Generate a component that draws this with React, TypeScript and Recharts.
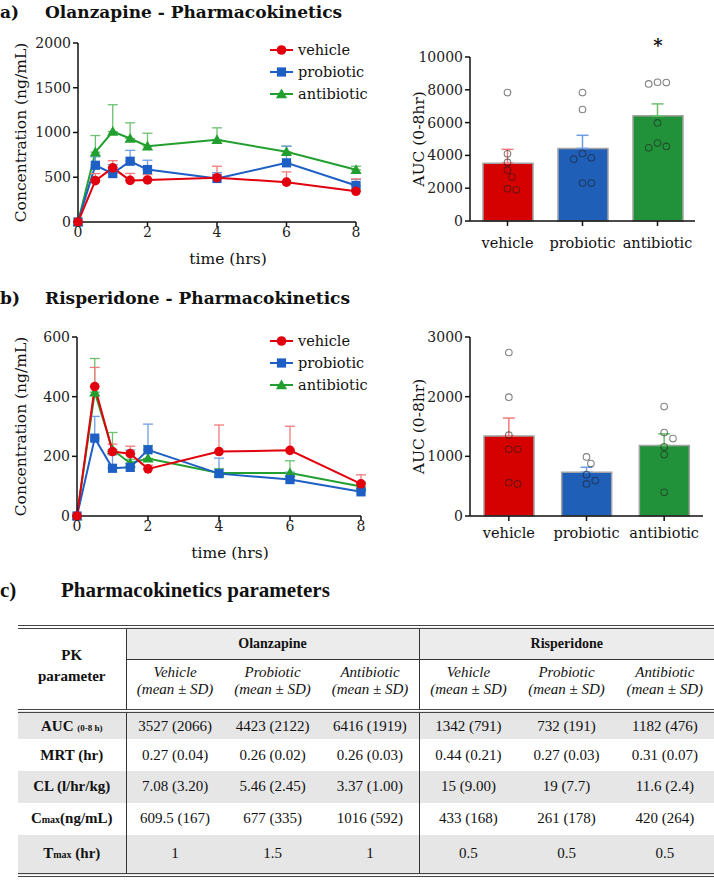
import React from 'react';
import {
  LineChart, Line, ComposedChart, Bar, Scatter, XAxis, YAxis, ErrorBar, Legend, LabelList, Cell,
} from 'recharts';

const serif = 'DejaVu Serif';
const groups = ['vehicle', 'probiotic', 'antibiotic'];
const times = [0, 0.5, 1, 1.5, 2, 4, 6, 8];
const timeTicks = [0, 2, 4, 6, 8];

// a) olanzapine plasma level (ng/mL), mean + SEM
const olzVehicle = [0, 462, 605, 465, 470, 495, 445, 343];
const olzVehicleSem = [0, 79, 80, 78, 60, 128, 115, 139];
const olzProbiotic = [0, 634, 541, 679, 586, 486, 661, 407];
const olzProbioticSem = [0, 95, 100, 121, 104, 65, 186, 67];
const olzAntibiotic = [0, 780, 1011, 933, 847, 918, 784, 583];
const olzAntibioticSem = [0, 186, 299, 175, 145, 134, 63, 40];
const olzConcTicks = [0, 500, 1000, 1500, 2000];

// b) risperidone plasma level (ng/mL)
const rspVehicle = [0, 434, 216, 209, 158, 216, 220, 108];
const rspVehicleSem = [0, 64, 25, 25, 12, 89, 81, 30];
const rspProbiotic = [0, 261, 160, 163, 222, 142, 122, 81];
const rspProbioticSem = [0, 73, 45, 58, 86, 52, 25, 12];
const rspAntibiotic = [0, 415, 222, 177, 193, 144, 144, 99];
const rspAntibioticSem = [0, 113, 58, 13, 43, 15, 41, 15];
const rspConcTicks = [0, 200, 400, 600];

// AUC (0-8hr) bars + single animals
const olzAuc = [3527, 4423, 6416];
const olzAucSem = [843, 802, 725];
const olzAucSig = ['', '', '*'];
const olzAucVehicle = [7830, 4100, 3570, 3100, 2680, 1970, 1900];
const olzAucProbiotic = [7830, 6800, 4120, 3850, 3770, 2310, 2310];
const olzAucAntibiotic = [8460, 8360, 8440, 5980, 4750, 4460, 4550];
const olzAucTicks = [0, 2000, 4000, 6000, 8000, 10000];

const rspAuc = [1342, 732, 1182];
const rspAucSem = [299, 85, 194];
const rspAucSig = ['', '', ''];
const rspAucVehicle = [2740, 1991, 1354, 1119, 1119, 537, 559];
const rspAucProbiotic = [990, 878, 693, 537, 593];
const rspAucAntibiotic = [1834, 1398, 1297, 1158, 1029, 397];
const rspAucTicks = [0, 1000, 2000, 3000];

// c) PK parameter table
const pkParamHead = ['AUC ', 'MRT (hr)', 'CL (l/hr/kg)', 'C', 'T'];
const pkParamSmall = ['(0-8 h)', '', '', 'max', 'max'];
const pkParamTail = ['', '', '', '(ng/mL)', ' (hr)'];
const pkOlzVehicle = ['3527 (2066)', '0.27 (0.04)', '7.08 (3.20)', '609.5 (167)', '1'];
const pkOlzProbiotic = ['4423 (2122)', '0.26 (0.02)', '5.46 (2.45)', '677 (335)', '1.5'];
const pkOlzAntibiotic = ['6416 (1919)', '0.26 (0.03)', '3.37 (1.00)', '1016 (592)', '1'];
const pkRspVehicle = ['1342 (791)', '0.44 (0.21)', '15 (9.00)', '433 (168)', '0.5'];
const pkRspProbiotic = ['732 (191)', '0.27 (0.03)', '19 (7.7)', '261 (178)', '0.5'];
const pkRspAntibiotic = ['1182 (476)', '0.31 (0.07)', '11.6 (2.4)', '420 (264)', '0.5'];

const lineColors = ['#e2000e', '#1e5fc6', '#22a02f'];
const semColors = ['#f27b7b', '#6e9de3', '#6cc070'];
const barFills = ['#d50000', '#1f5fb8', '#22923a'];

const axisStroke = { stroke: '#111', strokeWidth: 1.5 };
const tickFont = { fontFamily: serif, fontSize: 14, fill: '#222' };
const titleFont = { fontFamily: serif, fontSize: 15.5, fill: '#111' };

const Marker = ({ cx, cy, k, color }: any) => {
  if (cx == null || cy == null) return null;
  if (k === 0) return <circle cx={cx} cy={cy} r={4.8} fill={color} />;
  if (k === 1) return <rect x={cx - 4.6} y={cy - 4.6} width={9.2} height={9.2} fill={color} />;
  return <path d={`M${cx},${cy - 5.6}L${cx + 5.6},${cy + 4.2}L${cx - 5.6},${cy + 4.2}Z`} fill={color} />;
};

const SeriesLegend = () => (
  <div>
    {groups.map((g, k) => (
      <div key={g} style={{ display: 'flex', alignItems: 'center', height: 22 }}>
        <svg width={27} height={22}>
          <line x1={2} x2={25} y1={11} y2={11} stroke={lineColors[k]} strokeWidth={2} />
          <Marker cx={13.5} cy={11} k={k} color={lineColors[k]} />
        </svg>
        <span style={{ marginLeft: 3, fontFamily: serif, fontSize: 14.5, color: '#111' }}>{g}</span>
      </div>
    ))}
  </div>
);

const yTitle = (text: string, dx: number) => (p: any) => {
  const vb = p.viewBox;
  return (
    <text transform={`translate(${vb.x + dx},${vb.y + vb.height / 2}) rotate(-90)`}
      textAnchor="middle" dominantBaseline="central" style={titleFont}>{text}</text>
  );
};

const xTitle = (text: string, dx: number, dy: number) => (p: any) => {
  const vb = p.viewBox;
  return (
    <text x={vb.x + vb.width / 2 + dx} y={vb.y + dy} textAnchor="middle"
      dominantBaseline="central" style={titleFont}>{text}</text>
  );
};

function ConcChart({ series, sems, ticks, width, height, margin, yWidth, legendTop }: any) {
  const data = times.map((t, i) => {
    const row: any = { t };
    groups.forEach((g, k) => {
      row[g] = series[k][i];
      row[g + 'Sem'] = [0, sems[k][i]];
    });
    return row;
  });
  return (
    <LineChart width={width} height={height} data={data} margin={margin}>
      <XAxis type="number" dataKey="t" domain={[0, 8]} ticks={timeTicks} height={30}
        axisLine={axisStroke} tickLine={axisStroke} tickSize={5} tickMargin={0} tick={tickFont}
        label={xTitle('time (hrs)', 11, 37)} />
      <YAxis type="number" domain={[0, ticks[ticks.length - 1]]} ticks={ticks} width={yWidth}
        axisLine={axisStroke} tickLine={axisStroke} tickSize={5} tickMargin={2} tick={tickFont}
        label={yTitle('Concentration (ng/mL)', 21)} />
      <Legend layout="vertical" align="center" verticalAlign="middle"
        wrapperStyle={{ left: 268, top: legendTop, width: 110 }} content={() => <SeriesLegend />} />
      {[2, 1, 0].map((k) => (
        <Line key={groups[k]} dataKey={groups[k]} stroke={lineColors[k]} strokeWidth={2}
          isAnimationActive={false} activeDot={false}
          dot={(p: any) => <Marker key={`${groups[k]}-${p.index}`} cx={p.cx} cy={p.cy} k={k} color={lineColors[k]} />}>
          <ErrorBar dataKey={groups[k] + 'Sem'} direction="y" width={5} stroke={semColors[k]} strokeWidth={1.3} />
        </Line>
      ))}
    </LineChart>
  );
}

// simple beeswarm so the single-animal dots do not overlap
function swarm(values: number[], cat: number, pxPerY: number, pxPerCat: number) {
  const d = 7.6;
  const step = 4.4;
  const placed: { x: number; y: number }[] = [];
  return [...values].sort((a, b) => b - a).map((v) => {
    const y = v * pxPerY;
    let ox = 0;
    for (const s of [0, 1, -1, 2, -2, 3, -3]) {
      const x = s * step;
      if (placed.every((p) => Math.hypot(p.x - x, p.y - y) >= d)) { ox = x; break; }
    }
    placed.push({ x: ox, y });
    return { x: cat + ox / pxPerCat, auc: v };
  });
}

const OpenDot = (p: any) => (
  <circle cx={p.cx} cy={p.cy} r={3.3} fill="none" stroke="rgba(30,30,30,0.55)" strokeWidth={1.1} />
);

function AucChart({ means, sems, sig, dots, ticks, width, height, margin, plotW, plotH, tickGap }: any) {
  const yMax = ticks[ticks.length - 1];
  const data = groups.map((g, i) => ({ name: g, x: i + 1, auc: means[i], sig: sig[i] }));
  return (
    <ComposedChart width={width} height={height} data={data} margin={margin}>
      <XAxis xAxisId="cat" type="category" dataKey="name" interval={0} height={30}
        axisLine={axisStroke} tickLine={axisStroke} tickSize={5} tickMargin={tickGap}
        tick={{ ...tickFont, fontSize: 14.5, fill: '#111' }} />
      <XAxis xAxisId="num" type="number" dataKey="x" domain={[0.5, 3.5]} hide />
      <YAxis type="number" domain={[0, yMax]} ticks={ticks} width={110}
        axisLine={axisStroke} tickLine={axisStroke} tickSize={5} tickMargin={2} tick={tickFont}
        label={yTitle('AUC (0-8hr)', 59)} />
      <Bar xAxisId="cat" dataKey="auc" barSize={50} stroke="#a3a3a3" strokeWidth={1.5} isAnimationActive={false}>
        {data.map((d, i) => <Cell key={d.name} fill={barFills[i]} />)}
        <LabelList dataKey="sig" position="top" offset={64}
          style={{ fontFamily: serif, fontSize: 18, fontWeight: 'bold', fill: '#111' }} />
      </Bar>
      {groups.map((g, k) => (
        <Scatter key={g + '-sem'} xAxisId="num" data={[{ x: k + 1, auc: means[k], sem: [0, sems[k]] }]}
          dataKey="auc" shape={() => <g />} isAnimationActive={false}>
          <ErrorBar dataKey="sem" direction="y" width={6} stroke={semColors[k]} strokeWidth={1.5} />
        </Scatter>
      ))}
      {groups.map((g, k) => (
        <Scatter key={g + '-dots'} xAxisId="num" data={swarm(dots[k], k + 1, plotH / yMax, plotW / 3)}
          dataKey="auc" shape={OpenDot} isAnimationActive={false} />
      ))}
    </ComposedChart>
  );
}

const boxTitle: React.CSSProperties = {
  position: 'absolute', fontFamily: serif, fontWeight: 'bold', fontSize: 17, lineHeight: '22px',
  whiteSpace: 'nowrap', color: '#111',
};

const cell: React.CSSProperties = { textAlign: 'center', verticalAlign: 'middle', padding: 0 };
const vline = '1px solid #333';
const dline = '4px double #444';
const band = '#e6e6e6';
const rowHeights = [28, 32, 31.5, 32, 40];

function PkTable() {
  const cols = [pkOlzVehicle, pkOlzProbiotic, pkOlzAntibiotic, pkRspVehicle, pkRspProbiotic, pkRspAntibiotic];
  const sub = ['Vehicle', 'Probiotic', 'Antibiotic', 'Vehicle', 'Probiotic', 'Antibiotic'];
  return (
    <table style={{
      borderCollapse: 'collapse', tableLayout: 'fixed', width: 696, fontFamily: 'Liberation Serif',
      fontSize: 15, color: '#111', borderTop: dline, borderBottom: dline,
    }}>
      <colgroup>
        <col style={{ width: 108 }} />
        {sub.map((s, i) => <col key={i} style={{ width: i < 3 ? 97.7 : 98.3 }} />)}
      </colgroup>
      <tbody>
        <tr style={{ height: 32 }}>
          <td rowSpan={2} style={{ ...cell, borderRight: vline, borderBottom: dline, fontWeight: 'bold', lineHeight: '21px', paddingBottom: 6 }}>
            PK<br />parameter
          </td>
          <td colSpan={3} style={{ ...cell, background: '#ececec', borderRight: vline, borderBottom: vline, fontWeight: 'bold', fontSize: 14 }}>Olanzapine</td>
          <td colSpan={3} style={{ ...cell, background: '#ececec', borderBottom: vline, fontWeight: 'bold', fontSize: 14 }}>Risperidone</td>
        </tr>
        <tr style={{ height: 52 }}>
          {sub.map((s, i) => (
            <td key={i} style={{
              ...cell, verticalAlign: 'top', paddingTop: 4, lineHeight: '17px', fontStyle: 'italic',
              borderBottom: dline, borderRight: i === 2 ? vline : undefined,
            }}>{s}<br />(mean ± SD)</td>
          ))}
        </tr>
        {pkParamHead.map((h, r) => (
          <tr key={r} style={{ height: rowHeights[r], background: r % 2 === 0 ? band : '#fff' }}>
            <td style={{ ...cell, borderRight: vline, fontWeight: 'bold' }}>
              {h}<span style={{ fontSize: r === 0 ? 9 : 10 }}>{pkParamSmall[r]}</span>{pkParamTail[r]}
            </td>
            {cols.map((c, i) => (
              <td key={i} style={{ ...cell, borderRight: i === 2 ? vline : undefined }}>{c[r]}</td>
            ))}
          </tr>
        ))}
      </tbody>
    </table>
  );
}

export default function App() {
  return (
    <div style={{ position: 'absolute', left: 0, top: 0, width: 714, height: 887, overflow: 'hidden', background: '#fff' }}>
      <div style={{ ...boxTitle, left: 0, top: 1 }}>a)</div>
      <div style={{ ...boxTitle, left: 45, top: 1 }}>Olanzapine - Pharmacokinetics</div>
      <div style={{ ...boxTitle, left: 0, top: 287 }}>b)</div>
      <div style={{ ...boxTitle, left: 45, top: 287 }}>Risperidone - Pharmacokinetics</div>
      <div style={{ ...boxTitle, fontFamily: 'Liberation Serif', fontSize: 21, lineHeight: '24px', left: 0, top: 578 }}>c)</div>
      <div style={{ ...boxTitle, fontFamily: 'Liberation Serif', fontSize: 21, lineHeight: '24px', left: 61, top: 578 }}>Pharmacokinetics parameters</div>

      <div style={{ position: 'absolute', left: 0, top: 0 }}>
        <ConcChart series={[olzVehicle, olzProbiotic, olzAntibiotic]}
          sems={[olzVehicleSem, olzProbioticSem, olzAntibioticSem]} ticks={olzConcTicks}
          width={370} height={280} margin={{ top: 43, right: 14, bottom: 28, left: 0 }} yWidth={78} legendTop={39} />
      </div>
      <div style={{ position: 'absolute', left: 360, top: 0 }}>
        <AucChart means={olzAuc} sems={olzAucSem} sig={olzAucSig}
          dots={[olzAucVehicle, olzAucProbiotic, olzAucAntibiotic]} ticks={olzAucTicks}
          width={354} height={280} margin={{ top: 57, right: 19, bottom: 29, left: 0 }} plotW={225} plotH={164} tickGap={12} />
      </div>
      <div style={{ position: 'absolute', left: 0, top: 280 }}>
        <ConcChart series={[rspVehicle, rspProbiotic, rspAntibiotic]}
          sems={[rspVehicleSem, rspProbioticSem, rspAntibioticSem]} ticks={rspConcTicks}
          width={375} height={292} margin={{ top: 57, right: 14, bottom: 26, left: 0 }} yWidth={77} legendTop={50} />
      </div>
      <div style={{ position: 'absolute', left: 360, top: 280 }}>
        <AucChart means={rspAuc} sems={rspAucSem} sig={rspAucSig}
          dots={[rspAucVehicle, rspAucProbiotic, rspAucAntibiotic]} ticks={rspAucTicks}
          width={354} height={280} margin={{ top: 57, right: 11, bottom: 14, left: 0 }} plotW={233} plotH={179} tickGap={7} />
      </div>

      <div style={{ position: 'absolute', left: 18, top: 625 }}>
        <PkTable />
      </div>
    </div>
  );
}
